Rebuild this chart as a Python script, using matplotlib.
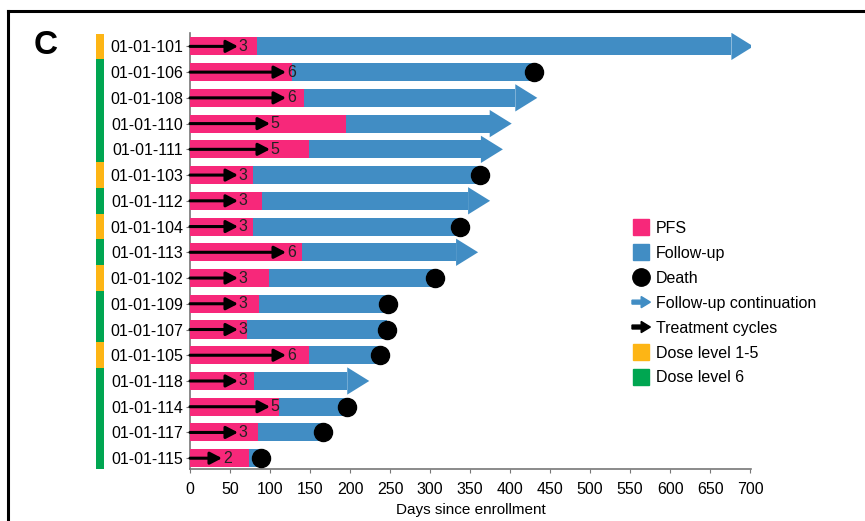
import numpy as np
import matplotlib
matplotlib.use("Agg")
import matplotlib.pyplot as plt
from matplotlib.lines import Line2D
from matplotlib.patches import Patch, Polygon, FancyArrow
from matplotlib.legend_handler import HandlerPatch

plt.rcParams['font.family'] = ['Liberation Sans', 'DejaVu Sans']

# Swimmer plot data, top to bottom
patients = ['01-01-101', '01-01-106', '01-01-108', '01-01-110', '01-01-111',
            '01-01-103', '01-01-112', '01-01-104', '01-01-113', '01-01-102',
            '01-01-109', '01-01-107', '01-01-105', '01-01-118', '01-01-114',
            '01-01-117', '01-01-115']
pfs_days = [84, 127, 142, 195, 149, 79, 90, 79, 140, 99, 86, 71, 149, 80, 111, 85, 74]
followup_days = [704, 430, 434, 402, 391, 362, 375, 337, 360, 306, 247, 246, 237,
                 224, 196, 166, 89]
died = [False, True, False, False, False, True, False, True, False, True, True,
        True, True, False, True, True, True]
cycles = [3, 6, 6, 5, 5, 3, 3, 3, 6, 3, 3, 3, 6, 3, 5, 3, 2]
dose = ['1-5', '6', '6', '6', '6', '1-5', '6', '1-5', '6', '1-5', '6', '6', '1-5',
        '6', '6', '6', '6']
days_per_cycle = 20

PINK = '#F7287A'
BLUE = '#418DC4'
YELLOW = '#FDB515'
GREEN = '#00A651'
dose_colors = {'1-5': YELLOW, '6': GREEN}

W, H = 865, 521
fig = plt.figure(figsize=(W / 100, H / 100), dpi=100)
bottom, top = (H - 469) / H, (H - 33) / H
left, right = 190 / W, 751 / W
ax = fig.add_axes([left, bottom, right - left, top - bottom])

y = np.arange(len(patients))
bar_h = 0.7
head_len = 27.5
head_half = 0.53

for i in range(len(patients)):
    end = followup_days[i]
    if died[i]:
        ax.barh(y[i], end - pfs_days[i], left=pfs_days[i], height=bar_h, color=BLUE, zorder=2)
    else:
        body = end - head_len
        ax.barh(y[i], body - pfs_days[i], left=pfs_days[i], height=bar_h, color=BLUE, zorder=2)
        ax.add_patch(Polygon([[body, y[i] - head_half], [end, y[i]], [body, y[i] + head_half]],
                             closed=True, color=BLUE, zorder=2, lw=0))
    ax.barh(y[i], pfs_days[i], left=0, height=bar_h, color=PINK, zorder=3)
    if died[i]:
        ax.plot(end, y[i], 'o', color='black', markersize=13, zorder=5, clip_on=False)
    tip = cycles[i] * days_per_cycle
    ax.annotate('', xy=(tip, y[i]), xytext=(0, y[i]),
                arrowprops=dict(arrowstyle='-|>,head_length=0.5,head_width=0.26',
                                lw=2.2, color='black', shrinkA=0, shrinkB=0,
                                mutation_scale=14), zorder=4)
    ax.text(tip + 1, y[i], str(cycles[i]), va='center', ha='left', fontsize=11.5,
            color='#222222', zorder=6)

ax.set_xlim(0, 701)
ax.set_ylim(len(patients) - 0.58, -0.52)
ax.set_yticks(y)
ax.set_yticklabels(patients, fontsize=11.5)
ax.set_xticks(np.arange(0, 701, 50))
ax.tick_params(axis='x', labelsize=11.5, length=3, color='#777777', pad=6)
ax.tick_params(axis='y', length=3, color='#777777', pad=2)
for s in ['top', 'right']:
    ax.spines[s].set_visible(False)
for s in ['left', 'bottom']:
    ax.spines[s].set_color('#777777')
    ax.spines[s].set_linewidth(1.2)
ax.set_xlabel('Days since enrollment', fontsize=11, labelpad=5)

# dose level strip on the far left
dax = fig.add_axes([96 / W, bottom, 8 / W, top - bottom])
for i in range(len(patients)):
    dax.barh(y[i], 1, height=1.0, color=dose_colors[dose[i]], lw=0)
dax.set_xlim(0, 1)
dax.set_ylim(ax.get_ylim())
dax.axis('off')


def arrow_patch(color):
    def make(legend, orig_handle, xdescent, ydescent, width, height, fontsize):
        return FancyArrow(-xdescent, -ydescent + height / 2, width, 0,
                          width=height * 0.35, head_width=height * 1.0,
                          head_length=width * 0.5, length_includes_head=True,
                          color=color, lw=0)
    return make


cont_handle = Patch(color=BLUE)
cyc_handle = Patch(color='black')
handles = [
    Line2D([], [], ls='', marker='s', markersize=12, color=PINK),
    Line2D([], [], ls='', marker='s', markersize=12, color=BLUE),
    Line2D([], [], ls='', marker='o', markersize=12.5, color='black'),
    cont_handle,
    cyc_handle,
    Line2D([], [], ls='', marker='s', markersize=12, color=YELLOW),
    Line2D([], [], ls='', marker='s', markersize=12, color=GREEN),
]
labels = ['PFS', 'Follow-up', 'Death', 'Follow-up continuation', 'Treatment cycles',
          'Dose level 1-5', 'Dose level 6']
fig.legend(handles, labels, loc='upper left', bbox_to_anchor=(632 / W, (H - 221) / H),
           frameon=False, fontsize=11.5, handlelength=1.15, handletextpad=0.35,
           labelspacing=0.62, borderpad=0, borderaxespad=0,
           handler_map={cont_handle: HandlerPatch(patch_func=arrow_patch(BLUE)),
                        cyc_handle: HandlerPatch(patch_func=arrow_patch('black'))})

fig.text(46 / W, (H - 45) / H, 'C', fontsize=24, fontweight='bold', ha='center', va='center')

# panel frame, cut by the image edges on the right and bottom
fig.add_artist(Line2D([8 / W, 8 / W], [0, (H - 11) / H], color='black', lw=2.2,
                      transform=fig.transFigure))
fig.add_artist(Line2D([8 / W, 1], [(H - 11) / H, (H - 11) / H], color='black', lw=2.2,
                      transform=fig.transFigure))

fig.savefig('out.png', dpi=100)
